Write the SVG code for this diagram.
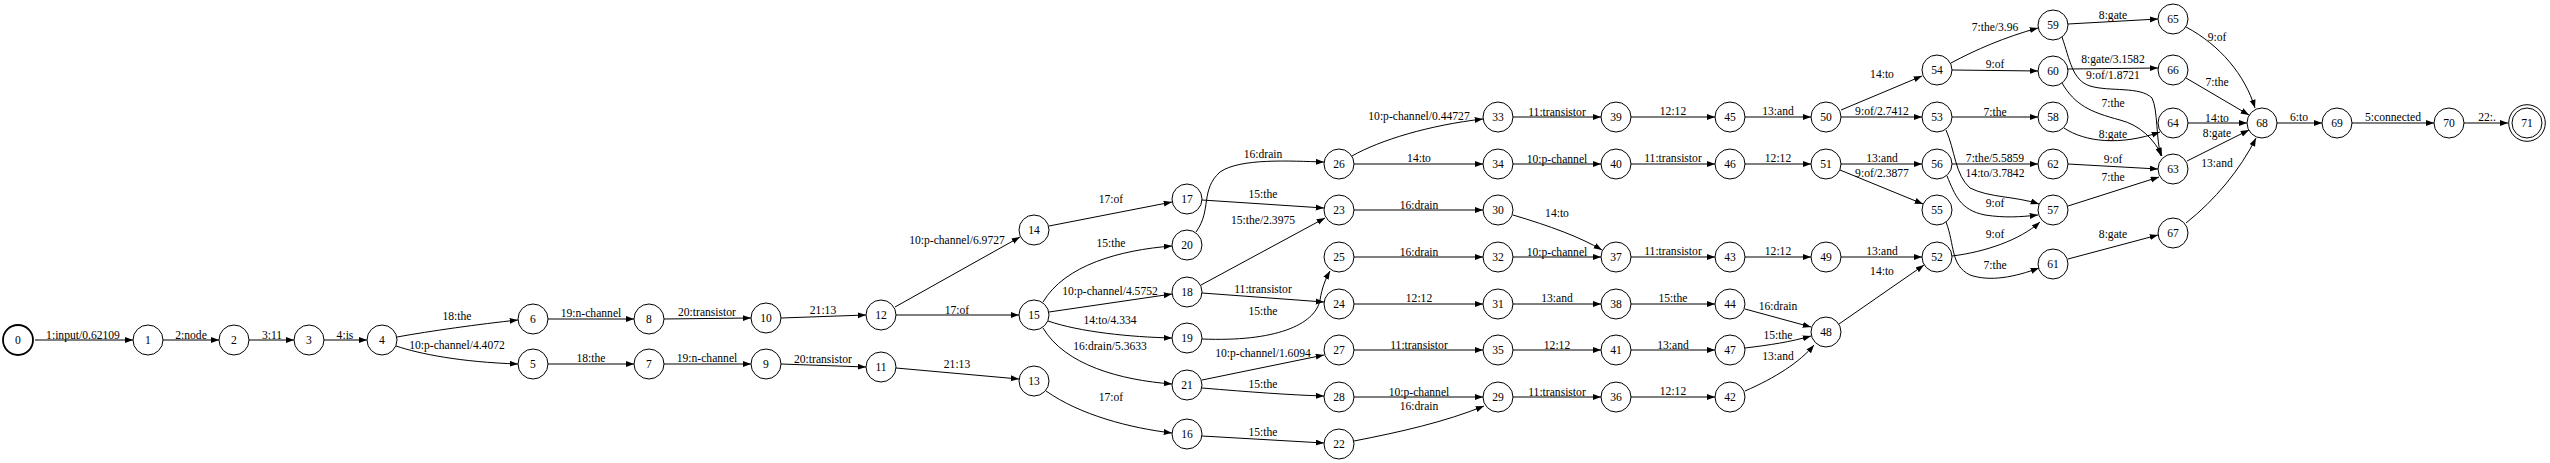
<svg xmlns="http://www.w3.org/2000/svg" width="2550" height="463" viewBox="0 0 2550 463">
<style>
.n circle{fill:#fff;stroke:#000;stroke-width:1}
.n text,.e text{font-family:"Liberation Serif","Times New Roman",serif;font-size:11.6px;fill:#000;text-anchor:middle}
.e path{fill:none;stroke:#000;stroke-width:1;marker-end:url(#a)}
</style>
<defs>
<marker id="a" markerUnits="userSpaceOnUse" markerWidth="10" markerHeight="8" refX="8.3" refY="3" orient="auto"><path d="M0,0 L8.3,3 L0,6 z" fill="#000"/></marker>
</defs>
<rect width="2550" height="463" fill="#fff"/>
<g id="edges">
<g class="e"><path d="M35,340 L133,340"/><text x="83" y="338.5">1:input/0.62109</text></g>
<g class="e"><path d="M163,340 L219,340"/><text x="191" y="338.5">2:node</text></g>
<g class="e"><path d="M249,340 L294,340"/><text x="272" y="338.5">3:11</text></g>
<g class="e"><path d="M324,340 L367,340"/><text x="345" y="338.5">4:is</text></g>
<g class="e"><path d="M397,337 C430,331 480,324 518,320"/><text x="457" y="320">18:the</text></g>
<g class="e"><path d="M396,346 C420,354 460,362 518,364"/><text x="457" y="349">10:p-channel/4.4072</text></g>
<g class="e"><path d="M548,319 L634,319"/><text x="591" y="316.5">19:n-channel</text></g>
<g class="e"><path d="M664,319 L751,318"/><text x="707" y="316">20:transistor</text></g>
<g class="e"><path d="M781,318 L866,315"/><text x="823" y="314">21:13</text></g>
<g class="e"><path d="M548,364 L634,364"/><text x="591" y="362">18:the</text></g>
<g class="e"><path d="M664,364 L751,364"/><text x="707" y="362">19:n-channel</text></g>
<g class="e"><path d="M781,364 L866,367"/><text x="823" y="363">20:transistor</text></g>
<g class="e"><path d="M896,368 L1019,379"/><text x="957" y="368">21:13</text></g>
<g class="e"><path d="M895,307 L1020,237"/><text x="957" y="244">10:p-channel/6.9727</text></g>
<g class="e"><path d="M896,315 L1019,315"/><text x="957" y="314">17:of</text></g>
<g class="e"><path d="M1049,226 L1172,202"/><text x="1111" y="203">17:of</text></g>
<g class="e"><path d="M1046,391 C1080,415 1130,428 1172,433"/><text x="1111" y="401">17:of</text></g>
<g class="e"><path d="M1043,302 C1065,265 1120,250 1172,246"/><text x="1111" y="247">15:the</text></g>
<g class="e"><path d="M1049,312 L1172,294"/><text x="1110" y="295">10:p-channel/4.5752</text></g>
<g class="e"><path d="M1048,321 C1080,332 1130,337 1172,338"/><text x="1110" y="324">14:to/4.334</text></g>
<g class="e"><path d="M1043,328 C1065,365 1120,380 1172,384"/><text x="1110" y="350">16:drain/5.3633</text></g>
<g class="e"><path d="M1202,200 L1324,208"/><text x="1263" y="198">15:the</text></g>
<g class="e"><path d="M1196,232 C1212,210 1200,190 1220,172 C1240,158 1290,161 1324,162"/><text x="1263" y="158">16:drain</text></g>
<g class="e"><path d="M1201,285 L1325,218"/><text x="1263" y="224">15:the/2.3975</text></g>
<g class="e"><path d="M1202,293 L1324,302"/><text x="1263" y="293">11:transistor</text></g>
<g class="e"><path d="M1202,339 C1275,342 1315,325 1320,300 C1322,288 1325,280 1330,271"/><text x="1263" y="315">15:the</text></g>
<g class="e"><path d="M1202,380 L1324,355"/><text x="1263" y="357">10:p-channel/1.6094</text></g>
<g class="e"><path d="M1202,388 C1250,392 1290,395 1324,396"/><text x="1263" y="388">15:the</text></g>
<g class="e"><path d="M1202,436 L1324,443"/><text x="1263" y="436">15:the</text></g>
<g class="e"><path d="M1352,156 C1380,140 1430,125 1483,119"/><text x="1419" y="120">10:p-channel/0.44727</text></g>
<g class="e"><path d="M1354,164 L1483,164"/><text x="1419" y="162">14:to</text></g>
<g class="e"><path d="M1354,210 L1483,210"/><text x="1419" y="209">16:drain</text></g>
<g class="e"><path d="M1354,257 L1483,257"/><text x="1419" y="256">16:drain</text></g>
<g class="e"><path d="M1354,304 L1483,304"/><text x="1419" y="302">12:12</text></g>
<g class="e"><path d="M1354,350 L1483,350"/><text x="1419" y="349">11:transistor</text></g>
<g class="e"><path d="M1354,397 L1483,397"/><text x="1419" y="396">10:p-channel</text></g>
<g class="e"><path d="M1354,441 C1400,432 1445,422 1484,406"/><text x="1419" y="410">16:drain</text></g>
<g class="e"><path d="M1513,117 L1601,117"/><text x="1557" y="116">11:transistor</text></g>
<g class="e"><path d="M1513,164 L1601,164"/><text x="1557" y="163">10:p-channel</text></g>
<g class="e"><path d="M1513,215 C1550,226 1580,237 1602,250"/><text x="1557" y="217">14:to</text></g>
<g class="e"><path d="M1513,257 L1601,257"/><text x="1557" y="256">10:p-channel</text></g>
<g class="e"><path d="M1513,304 L1601,304"/><text x="1557" y="302">13:and</text></g>
<g class="e"><path d="M1513,350 L1601,350"/><text x="1557" y="349">12:12</text></g>
<g class="e"><path d="M1513,397 L1601,397"/><text x="1557" y="396">11:transistor</text></g>
<g class="e"><path d="M1631,117 L1715,117"/><text x="1673" y="115">12:12</text></g>
<g class="e"><path d="M1631,164 L1715,164"/><text x="1673" y="162">11:transistor</text></g>
<g class="e"><path d="M1631,257 L1715,257"/><text x="1673" y="255">11:transistor</text></g>
<g class="e"><path d="M1631,304 L1715,304"/><text x="1673" y="302">15:the</text></g>
<g class="e"><path d="M1631,350 L1715,350"/><text x="1673" y="349">13:and</text></g>
<g class="e"><path d="M1631,397 L1715,397"/><text x="1673" y="395">12:12</text></g>
<g class="e"><path d="M1745,117 L1811,117"/><text x="1778" y="115">13:and</text></g>
<g class="e"><path d="M1745,164 L1811,164"/><text x="1778" y="162">12:12</text></g>
<g class="e"><path d="M1745,257 L1811,257"/><text x="1778" y="255">12:12</text></g>
<g class="e"><path d="M1745,309 L1811,327"/><text x="1778" y="310">16:drain</text></g>
<g class="e"><path d="M1745,348 C1770,345 1790,342 1811,336"/><text x="1778" y="339">15:the</text></g>
<g class="e"><path d="M1745,391 C1775,378 1800,362 1814,345"/><text x="1778" y="360">13:and</text></g>
<g class="e"><path d="M1841,110 L1922,76"/><text x="1882" y="78">14:to</text></g>
<g class="e"><path d="M1841,117 L1922,117"/><text x="1882" y="115">9:of/2.7412</text></g>
<g class="e"><path d="M1841,164 L1922,164"/><text x="1882" y="162">13:and</text></g>
<g class="e"><path d="M1840,170 L1923,204"/><text x="1882" y="177">9:of/2.3877</text></g>
<g class="e"><path d="M1841,257 L1922,257"/><text x="1882" y="255">13:and</text></g>
<g class="e"><path d="M1839,324 L1924,265"/><text x="1882" y="275">14:to</text></g>
<g class="e"><path d="M1951,63 C1975,50 2005,37 2038,28"/><text x="1995" y="31">7:the/3.96</text></g>
<g class="e"><path d="M1952,70 L2038,71"/><text x="1995" y="68">9:of</text></g>
<g class="e"><path d="M1952,117 L2038,117"/><text x="1995" y="116">7:the</text></g>
<g class="e"><path d="M1946,130 C1955,150 1955,175 1970,188 C1990,198 2015,196 2039,204"/><text x="1995" y="177">14:to/3.7842</text></g>
<g class="e"><path d="M1952,164 L2038,164"/><text x="1995" y="162">7:the/5.5859</text></g>
<g class="e"><path d="M1947,176 C1955,195 1960,210 1985,215 C2005,218 2020,217 2038,215"/><text x="1995" y="207">9:of</text></g>
<g class="e"><path d="M1952,256 C1985,252 2020,240 2040,222"/><text x="1995" y="238">9:of</text></g>
<g class="e"><path d="M1946,222 C1955,245 1950,265 1970,275 C1990,282 2015,277 2039,268"/><text x="1995" y="269">7:the</text></g>
<g class="e"><path d="M2064,128 C2085,142 2120,146 2160,132"/><text x="2113" y="138">8:gate</text></g>
<g class="e"><path d="M2068,164 L2158,169"/><text x="2113" y="163">9:of</text></g>
<g class="e"><path d="M2068,206 L2159,177"/><text x="2113" y="181">7:the</text></g>
<g class="e"><path d="M2068,259 L2158,235"/><text x="2113" y="238">8:gate</text></g>
<g class="e"><path d="M2068,24 L2158,19"/><text x="2113" y="19">8:gate</text></g>
<g class="e"><path d="M2062,37 C2070,60 2072,80 2090,86 C2110,92 2140,86 2152,98 C2158,110 2156,140 2161,156"/><text x="2113" y="79">9:of/1.8721</text></g>
<g class="e"><path d="M2068,69 L2158,68"/><text x="2113" y="63">8:gate/3.1582</text></g>
<g class="e"><path d="M2062,83 C2075,105 2090,112 2120,120 C2140,125 2155,140 2162,156"/><text x="2113" y="107">7:the</text></g>
<g class="e"><path d="M2186,27 C2220,45 2245,75 2255,108"/><text x="2217" y="41">9:of</text></g>
<g class="e"><path d="M2186,78 L2249,115"/><text x="2217" y="86">7:the</text></g>
<g class="e"><path d="M2188,123 L2247,123"/><text x="2217" y="122">14:to</text></g>
<g class="e"><path d="M2187,161 L2249,130"/><text x="2217" y="137">8:gate</text></g>
<g class="e"><path d="M2186,223 C2215,200 2240,170 2256,138"/><text x="2217" y="167">13:and</text></g>
<g class="e"><path d="M2277,123 L2322,123"/><text x="2299" y="121">6:to</text></g>
<g class="e"><path d="M2352,123 L2434,123"/><text x="2393" y="121">5:connected</text></g>
<g class="e"><path d="M2464,123 L2508,123"/><text x="2487" y="121">22:.</text></g>
</g>
<g id="n0" class="n"><circle cx="18" cy="340" r="15" style="stroke-width:1.8"/><text x="18" y="344">0</text></g>
<g id="n1" class="n"><circle cx="148" cy="340" r="15"/><text x="148" y="344">1</text></g>
<g id="n2" class="n"><circle cx="234" cy="340" r="15"/><text x="234" y="344">2</text></g>
<g id="n3" class="n"><circle cx="309" cy="340" r="15"/><text x="309" y="344">3</text></g>
<g id="n4" class="n"><circle cx="382" cy="340" r="15"/><text x="382" y="344">4</text></g>
<g id="n5" class="n"><circle cx="533" cy="364" r="15"/><text x="533" y="368">5</text></g>
<g id="n6" class="n"><circle cx="533" cy="319" r="15"/><text x="533" y="323">6</text></g>
<g id="n7" class="n"><circle cx="649" cy="364" r="15"/><text x="649" y="368">7</text></g>
<g id="n8" class="n"><circle cx="649" cy="319" r="15"/><text x="649" y="323">8</text></g>
<g id="n9" class="n"><circle cx="766" cy="364" r="15"/><text x="766" y="368">9</text></g>
<g id="n10" class="n"><circle cx="766" cy="318" r="15"/><text x="766" y="322">10</text></g>
<g id="n11" class="n"><circle cx="881" cy="367" r="15"/><text x="881" y="371">11</text></g>
<g id="n12" class="n"><circle cx="881" cy="315" r="15"/><text x="881" y="319">12</text></g>
<g id="n13" class="n"><circle cx="1034" cy="381" r="15"/><text x="1034" y="385">13</text></g>
<g id="n14" class="n"><circle cx="1034" cy="230" r="15"/><text x="1034" y="234">14</text></g>
<g id="n15" class="n"><circle cx="1034" cy="315" r="15"/><text x="1034" y="319">15</text></g>
<g id="n16" class="n"><circle cx="1187" cy="434" r="15"/><text x="1187" y="438">16</text></g>
<g id="n17" class="n"><circle cx="1187" cy="199" r="15"/><text x="1187" y="203">17</text></g>
<g id="n18" class="n"><circle cx="1187" cy="292" r="15"/><text x="1187" y="296">18</text></g>
<g id="n19" class="n"><circle cx="1187" cy="338" r="15"/><text x="1187" y="342">19</text></g>
<g id="n20" class="n"><circle cx="1187" cy="245" r="15"/><text x="1187" y="249">20</text></g>
<g id="n21" class="n"><circle cx="1187" cy="385" r="15"/><text x="1187" y="389">21</text></g>
<g id="n22" class="n"><circle cx="1339" cy="444" r="15"/><text x="1339" y="448">22</text></g>
<g id="n23" class="n"><circle cx="1339" cy="210" r="15"/><text x="1339" y="214">23</text></g>
<g id="n24" class="n"><circle cx="1339" cy="304" r="15"/><text x="1339" y="308">24</text></g>
<g id="n25" class="n"><circle cx="1339" cy="257" r="15"/><text x="1339" y="261">25</text></g>
<g id="n26" class="n"><circle cx="1339" cy="164" r="15"/><text x="1339" y="168">26</text></g>
<g id="n27" class="n"><circle cx="1339" cy="350" r="15"/><text x="1339" y="354">27</text></g>
<g id="n28" class="n"><circle cx="1339" cy="397" r="15"/><text x="1339" y="401">28</text></g>
<g id="n29" class="n"><circle cx="1498" cy="397" r="15"/><text x="1498" y="401">29</text></g>
<g id="n30" class="n"><circle cx="1498" cy="210" r="15"/><text x="1498" y="214">30</text></g>
<g id="n31" class="n"><circle cx="1498" cy="304" r="15"/><text x="1498" y="308">31</text></g>
<g id="n32" class="n"><circle cx="1498" cy="257" r="15"/><text x="1498" y="261">32</text></g>
<g id="n33" class="n"><circle cx="1498" cy="117" r="15"/><text x="1498" y="121">33</text></g>
<g id="n34" class="n"><circle cx="1498" cy="164" r="15"/><text x="1498" y="168">34</text></g>
<g id="n35" class="n"><circle cx="1498" cy="350" r="15"/><text x="1498" y="354">35</text></g>
<g id="n36" class="n"><circle cx="1616" cy="397" r="15"/><text x="1616" y="401">36</text></g>
<g id="n37" class="n"><circle cx="1616" cy="257" r="15"/><text x="1616" y="261">37</text></g>
<g id="n38" class="n"><circle cx="1616" cy="304" r="15"/><text x="1616" y="308">38</text></g>
<g id="n39" class="n"><circle cx="1616" cy="117" r="15"/><text x="1616" y="121">39</text></g>
<g id="n40" class="n"><circle cx="1616" cy="164" r="15"/><text x="1616" y="168">40</text></g>
<g id="n41" class="n"><circle cx="1616" cy="350" r="15"/><text x="1616" y="354">41</text></g>
<g id="n42" class="n"><circle cx="1730" cy="397" r="15"/><text x="1730" y="401">42</text></g>
<g id="n43" class="n"><circle cx="1730" cy="257" r="15"/><text x="1730" y="261">43</text></g>
<g id="n44" class="n"><circle cx="1730" cy="304" r="15"/><text x="1730" y="308">44</text></g>
<g id="n45" class="n"><circle cx="1730" cy="117" r="15"/><text x="1730" y="121">45</text></g>
<g id="n46" class="n"><circle cx="1730" cy="164" r="15"/><text x="1730" y="168">46</text></g>
<g id="n47" class="n"><circle cx="1730" cy="350" r="15"/><text x="1730" y="354">47</text></g>
<g id="n48" class="n"><circle cx="1826" cy="332" r="15"/><text x="1826" y="336">48</text></g>
<g id="n49" class="n"><circle cx="1826" cy="257" r="15"/><text x="1826" y="261">49</text></g>
<g id="n50" class="n"><circle cx="1826" cy="117" r="15"/><text x="1826" y="121">50</text></g>
<g id="n51" class="n"><circle cx="1826" cy="164" r="15"/><text x="1826" y="168">51</text></g>
<g id="n52" class="n"><circle cx="1937" cy="257" r="15"/><text x="1937" y="261">52</text></g>
<g id="n53" class="n"><circle cx="1937" cy="117" r="15"/><text x="1937" y="121">53</text></g>
<g id="n54" class="n"><circle cx="1937" cy="70" r="15"/><text x="1937" y="74">54</text></g>
<g id="n55" class="n"><circle cx="1937" cy="210" r="15"/><text x="1937" y="214">55</text></g>
<g id="n56" class="n"><circle cx="1937" cy="164" r="15"/><text x="1937" y="168">56</text></g>
<g id="n57" class="n"><circle cx="2053" cy="210" r="15"/><text x="2053" y="214">57</text></g>
<g id="n58" class="n"><circle cx="2053" cy="117" r="15"/><text x="2053" y="121">58</text></g>
<g id="n59" class="n"><circle cx="2053" cy="25" r="15"/><text x="2053" y="29">59</text></g>
<g id="n60" class="n"><circle cx="2053" cy="71" r="15"/><text x="2053" y="75">60</text></g>
<g id="n61" class="n"><circle cx="2053" cy="264" r="15"/><text x="2053" y="268">61</text></g>
<g id="n62" class="n"><circle cx="2053" cy="164" r="15"/><text x="2053" y="168">62</text></g>
<g id="n63" class="n"><circle cx="2173" cy="169" r="15"/><text x="2173" y="173">63</text></g>
<g id="n64" class="n"><circle cx="2173" cy="123" r="15"/><text x="2173" y="127">64</text></g>
<g id="n65" class="n"><circle cx="2173" cy="19" r="15"/><text x="2173" y="23">65</text></g>
<g id="n66" class="n"><circle cx="2173" cy="70" r="15"/><text x="2173" y="74">66</text></g>
<g id="n67" class="n"><circle cx="2173" cy="233" r="15"/><text x="2173" y="237">67</text></g>
<g id="n68" class="n"><circle cx="2262" cy="123" r="15"/><text x="2262" y="127">68</text></g>
<g id="n69" class="n"><circle cx="2337" cy="123" r="15"/><text x="2337" y="127">69</text></g>
<g id="n70" class="n"><circle cx="2449" cy="123" r="15"/><text x="2449" y="127">70</text></g>
<g id="n71" class="n"><circle cx="2527" cy="123" r="18.3"/><circle cx="2527" cy="123" r="15"/><text x="2527" y="127">71</text></g>
</svg>
